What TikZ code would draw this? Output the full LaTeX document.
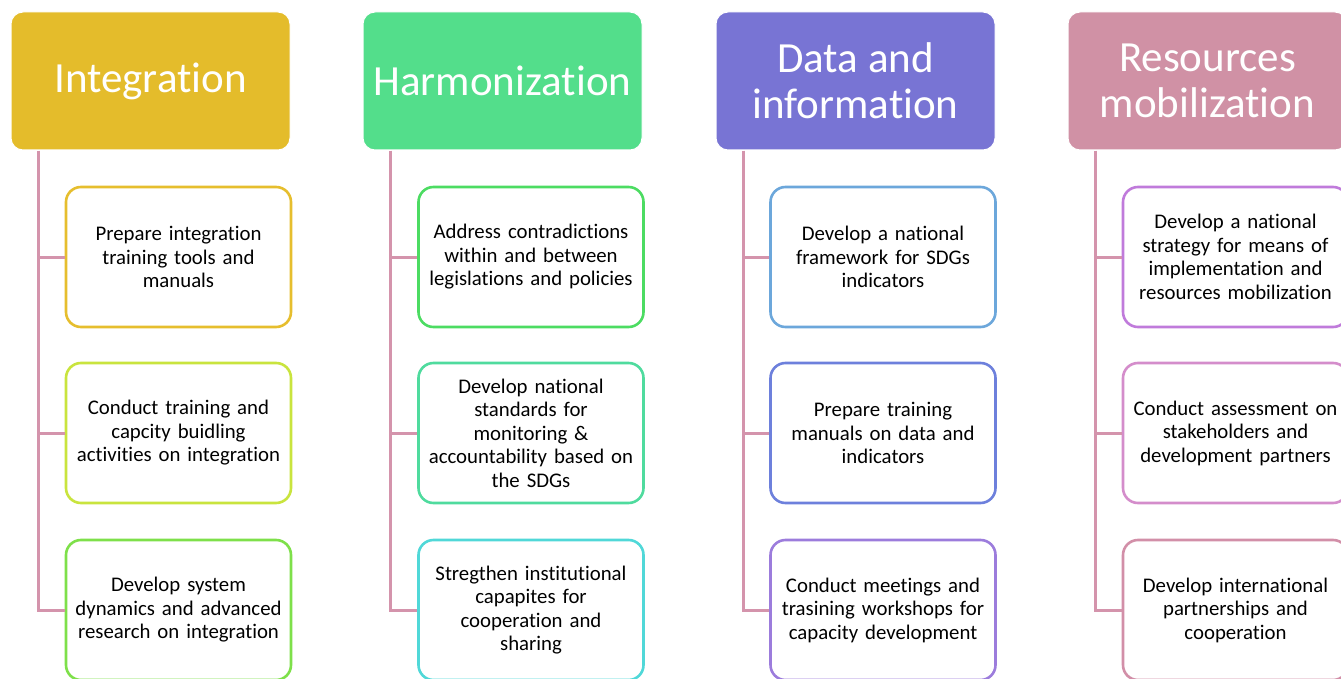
\documentclass[tikz,border=0pt]{standalone}
\usepackage{fontspec}
\setmainfont{Carlito}[Ligatures=NoCommon]
\definecolor{hI}{HTML}{E4BC2B}
\definecolor{hH}{HTML}{53DE8B}
\definecolor{hD}{HTML}{7874D4}
\definecolor{hR}{HTML}{D091A5}
\definecolor{cIa}{HTML}{E6BE2E}
\definecolor{cIb}{HTML}{C9E43E}
\definecolor{cIc}{HTML}{7EE04A}
\definecolor{cHa}{HTML}{4CDC62}
\definecolor{cHb}{HTML}{4FDB9E}
\definecolor{cHc}{HTML}{50D8D8}
\definecolor{cDa}{HTML}{6CA7DB}
\definecolor{cDb}{HTML}{6D80DC}
\definecolor{cDc}{HTML}{9C7CDC}
\definecolor{cRa}{HTML}{C07BDB}
\definecolor{cRb}{HTML}{D48DCB}
\definecolor{cRc}{HTML}{D28FA8}
\definecolor{lnk}{HTML}{D494AC}
\begin{document}
\begin{tikzpicture}[x=1pt,y=-1pt,
  head/.style={draw=white,line width=1pt,rounded corners=12pt,minimum width=279pt,minimum height=138pt,
    text=white,align=center,font=\fontsize{43}{46}\selectfont,inner sep=0pt},
  child/.style={draw=#1,fill=white,line width=2.6pt,rounded corners=15pt,minimum width=225pt,minimum height=140pt,
    align=center,text width=223pt,font=\fontsize{20.8}{23.5}\selectfont,inner sep=0pt},
  conn/.style={draw=lnk,line width=3pt}]
\useasboundingbox (0,0) rectangle (1341,679);
\clip (0,0) rectangle (1341,679);
% headers
\node[head,fill=hI] (h1) at (150.5,81) {Integration};
\node[head,fill=hH] (h2) at (502.5,81) {Harmonization};
\node[head,fill=hD] (h3) at (855.5,81) {Data and\\information};
\node[head,fill=hR] (h4) at (1207.5,81) {Resources\\mobilization};
% children
\node[child=cIa] (c11) at (178.5,257) {Prepare integration\\training tools and\\manuals};
\node[child=cIb] (c12) at (178.5,433) {Conduct training and\\capcity buidling\\activities on integration};
\node[child=cIc] (c13) at (178.5,610) {Develop system\\dynamics and advanced\\research on integration};
\node[child=cHa] (c21) at (531,257) {Address contradictions\\within and between\\legislations and policies};
\node[child=cHb] (c22) at (531,433) {Develop national\\standards for\\monitoring \&\\accountability based on\\the SDGs};
\node[child=cHc] (c23) at (531,610) {Stregthen institutional\\capapites for\\cooperation and\\sharing};
\node[child=cDa] (c31) at (883,257) {Develop a national\\framework for SDGs\\indicators};
\node[child=cDb] (c32) at (883,433) {Prepare training\\manuals on data and\\indicators};
\node[child=cDc] (c33) at (883,610) {Conduct meetings and\\trasining workshops for\\capacity development};
\node[child=cRa] (c41) at (1235.5,257) {Develop a national\\strategy for means of\\implementation and\\resources mobilization};
\node[child=cRb] (c42) at (1235.5,433) {Conduct assessment on\\stakeholders and\\development partners};
\node[child=cRc] (c43) at (1235.5,610) {Develop international\\partnerships and\\cooperation};
% connectors
\foreach \h/\c in {1/1,2/2,3/3,4/4}{
  \foreach \k in {1,2,3}{
    \draw[conn] ([xshift=27.5pt,yshift=-0.5pt]h\h.south west) |- (c\c\k.west);
  }
}
\end{tikzpicture}
\end{document}
